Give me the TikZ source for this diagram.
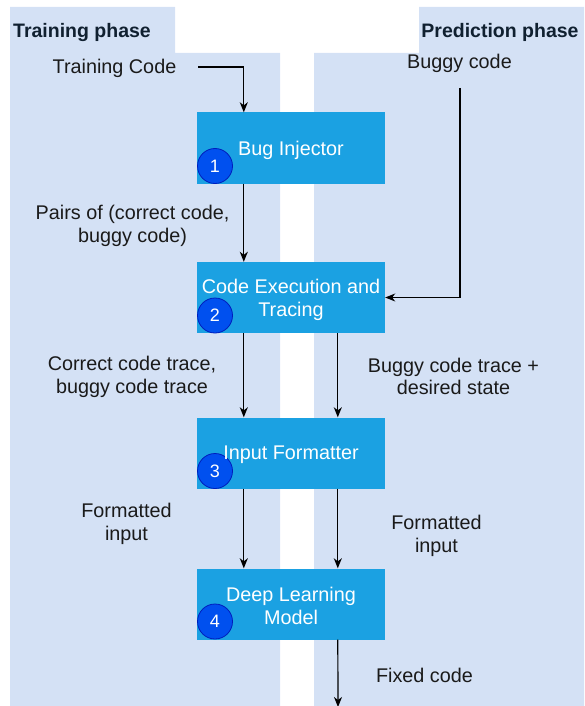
\documentclass[tikz,border=0pt]{standalone}
\usepackage{fontspec}
\setmainfont{Liberation Sans}
\usetikzlibrary{arrows.meta,calc}

\definecolor{panelfill}{HTML}{D4E1F5}
\definecolor{stagefill}{HTML}{1BA1E2}
\definecolor{badgefill}{HTML}{0050EF}
\definecolor{badgeline}{HTML}{001DBC}
\definecolor{labelink}{HTML}{1A1A1A}
\definecolor{headink}{HTML}{102030}

\tikzset{
  panel/.style={fill=panelfill, draw=none},
  stagebox/.style={fill=stagefill, draw=none, minimum width=188pt, minimum height=71pt,
    inner sep=0pt},
  stagetext/.style={text=white, align=center, inner sep=0pt, yshift=-2pt,
    font=\fontsize{19.8}{22.8}\selectfont},
  badge/.style={circle, fill=badgefill, draw=badgeline, line width=0.8pt,
    minimum size=35pt, inner sep=0pt, text=white, font=\fontsize{18}{20}\selectfont},
  lbl/.style={text=labelink, align=center, inner sep=0pt, yshift=-1.5pt,
    font=\fontsize{19.8}{22.8}\selectfont},
  heading/.style={text=headink, inner sep=0pt, yshift=-1.5pt,
    font=\fontsize{19.5}{22.5}\selectfont\bfseries},
  flow/.style={draw=black, line width=1.2pt, -{Stealth[length=10pt,width=8pt,inset=3pt]}},
}

\begin{document}
\begin{tikzpicture}[x=1pt, y=-1pt]
  \useasboundingbox (0,0) rectangle (584,706);

  % phase panels
  \path[panel] (10,7) -- (175,7) -- (175,53) -- (280,53) -- (280,706) -- (10,706) -- cycle;
  \path[panel] (419,7) -- (584,7) -- (584,706) -- (314,706) -- (314,53) -- (419,53) -- cycle;

  \node[heading, anchor=west] (thead) at (13,31) {Training phase};
  \node[heading] (phead) at (500,31) {Prediction phase};

  % pipeline stages
  \node[stagebox] (b1) at (291,148) {};
  \node[stagebox] (b2) at (291,297.5) {};
  \node[stagebox] (b3) at (291,453) {};
  \node[stagebox] (b4) at (291,604) {};

  % step badges
  \node[badge] (c1) at (215,166) {1};
  \node[badge] (c2) at (215,315.5) {2};
  \node[badge] (c3) at (215,471) {3};
  \node[badge] (c4) at (215,621.5) {4};

  % stage titles, set over the badges
  \node[stagetext] (b1t) at (b1.center) {Bug Injector};
  \node[stagetext] (b2t) at (b2.center) {Code Execution and\\Tracing};
  \node[stagetext] (b3t) at (b3.center) {Input Formatter};
  \node[stagetext] (b4t) at (b4.center) {Deep Learning\\Model};

  % edge labels
  \node[lbl] (tc) at (114.5,67) {Training Code};
  \node[lbl] (bc) at (459.5,62) {Buggy code};
  \node[lbl] (pairs) at (132.5,224) {Pairs of (correct code,\\buggy code)};
  \node[lbl] (traces) at (132,375) {Correct code trace,\\buggy code trace};
  \node[lbl] (btrace) at (453.5,375) {Buggy code trace +\\desired state};
  \node[lbl] (fmtL) at (126.5,522) {Formatted\\input};
  \node[lbl] (fmtR) at (436.5,534) {Formatted\\input};
  \node[lbl] (fixed) at (424.5,674) {Fixed code};

  % connector end points
  \coordinate (tcStart) at (198,67);
  \coordinate (bcStart) at (460,88);
  \coordinate (outEnd) at (338,707);

  % training column (x = 244) and prediction column (x = 338)
  \coordinate (L1b) at ($(b1.south west)+(47,0)$);
  \coordinate (L1t) at ($(b1.north west)+(47,0)$);
  \coordinate (L2t) at ($(b2.north west)+(47,0)$);
  \coordinate (L2b) at ($(b2.south west)+(47,0)$);
  \coordinate (L3t) at ($(b3.north west)+(47,0)$);
  \coordinate (L3b) at ($(b3.south west)+(47,0)$);
  \coordinate (L4t) at ($(b4.north west)+(47,0)$);
  \coordinate (R2b) at ($(b2.south west)+(141,0)$);
  \coordinate (R3t) at ($(b3.north west)+(141,0)$);
  \coordinate (R3b) at ($(b3.south west)+(141,0)$);
  \coordinate (R4t) at ($(b4.north west)+(141,0)$);
  \coordinate (R4b) at ($(b4.south west)+(141,0)$);

  \draw[flow] (tcStart) -| (L1t);
  \draw[flow] (L1b) -- (L2t);
  \draw[flow] (bcStart) |- (b2.east);
  \draw[flow] (L2b) -- (L3t);
  \draw[flow] (R2b) -- (R3t);
  \draw[flow] (L3b) -- (L4t);
  \draw[flow] (R3b) -- (R4t);
  \draw[flow] (R4b) -- (outEnd);
\end{tikzpicture}
\end{document}
